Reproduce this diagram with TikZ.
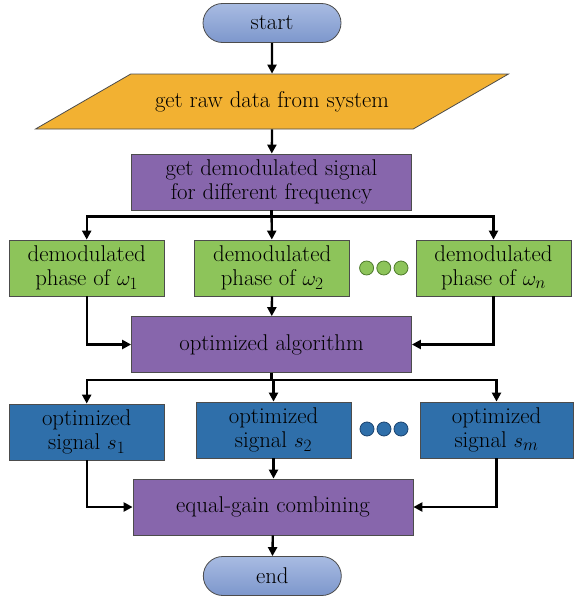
\documentclass[tikz,border=0pt]{standalone}
\usetikzlibrary{shapes.geometric,shapes.misc,arrows.meta}
\definecolor{termtop}{HTML}{A8BBE2}
\definecolor{termbot}{HTML}{7D97CC}
\definecolor{rawfill}{HTML}{F2B132}
\definecolor{procfill}{HTML}{8766AC}
\definecolor{phasefill}{HTML}{8DC45A}
\definecolor{phaseline}{HTML}{4E7A2C}
\definecolor{sigfill}{HTML}{2F6FAA}
\definecolor{sigline}{HTML}{1C4470}
\begin{document}
\begin{tikzpicture}[x=1pt,y=-1pt,
  base/.style={draw=black!70,line width=.8pt,align=center,inner sep=0pt,
    font=\fontsize{22.8}{23.5}\selectfont},
  terminal/.style={base,rounded rectangle,minimum width=138pt,minimum height=39pt,
    top color=termtop,bottom color=termbot},
  iobox/.style={base,trapezium,trapezium left angle=30,trapezium right angle=150,
    trapezium stretches body,fill=rawfill,text height=16pt,text depth=5pt,
    inner ysep=17pt,minimum width=473pt},
  procbox/.style={base,rectangle,fill=procfill,minimum width=280pt,minimum height=56pt},
  phasebox/.style={base,rectangle,fill=phasefill,minimum width=155pt,minimum height=56pt},
  sigbox/.style={base,rectangle,fill=sigfill,minimum width=155pt,minimum height=56pt},
  gdot/.style={circle,draw=phaseline,line width=.8pt,fill=phasefill,minimum size=14pt,inner sep=0pt},
  bdot/.style={circle,draw=sigline,line width=.8pt,fill=sigfill,minimum size=14pt,inner sep=0pt},
  conn/.style={line width=2.3pt,-{Triangle[length=9pt,width=9pt]}}]
\useasboundingbox (0,0) rectangle (573,597);
\node[terminal] (start) at (272,23) {start};
\node[iobox] (raw) at (272,101.5) {get raw data from system};
\node[procbox] (demod) at (271.5,182) {get demodulated signal\\for different frequency};
\node[phasebox] (g1) at (86.7,268) {demodulated\\phase of $\omega_{1}$};
\node[phasebox] (g2) at (272.2,268) {demodulated\\phase of $\omega_{2}$};
\node[phasebox] (g3) at (493.5,268) {demodulated\\phase of $\omega_{n}$};
\node[gdot] (gd1) at (366.6,268) {};
\node[gdot] (gd2) at (383.8,268) {};
\node[gdot] (gd3) at (401,268) {};
\node[procbox] (opt) at (271.5,344.5) {optimized algorithm};
\node[sigbox] (s1) at (86.7,432) {optimized\\signal $s_{1}$};
\node[sigbox] (s2) at (273.5,430) {optimized\\signal $s_{2}$};
\node[sigbox, minimum width=153pt] (s3) at (496.5,430) {optimized\\signal $s_{m}$};
\node[bdot] (bd1) at (367,429) {};
\node[bdot] (bd2) at (384,429) {};
\node[bdot] (bd3) at (401,429) {};
\node[procbox] (egc) at (273,507) {equal-gain combining};
\node[terminal] (end) at (272.3,576) {end};

\draw[conn] (start) -- (raw);
\draw[conn] (raw.south) -- (demod);
\draw[conn] (demod.south) -- (g2);
\draw[conn] (demod.south) -- ++(0,6) -| (g1);
\draw[conn] (demod.south) -- ++(0,6) -| (g3);
\draw[conn] (g1) |- (opt);
\draw[conn] (g2) -- (opt);
\draw[conn] (g3) |- (opt);
\draw[conn] (opt.south) -- ++(0,7) -| (s1);
\draw[conn] (opt.south) -- ++(0,7) -| (s2);
\draw[conn] (opt.south) -- ++(0,7) -| (s3);
\draw[conn] (s1) |- (egc);
\draw[conn] (s2.south) -- (s2.south |- egc.north);
\draw[conn] (s3) |- (egc);
\draw[conn] (egc) -- (end);
\end{tikzpicture}
\end{document}
